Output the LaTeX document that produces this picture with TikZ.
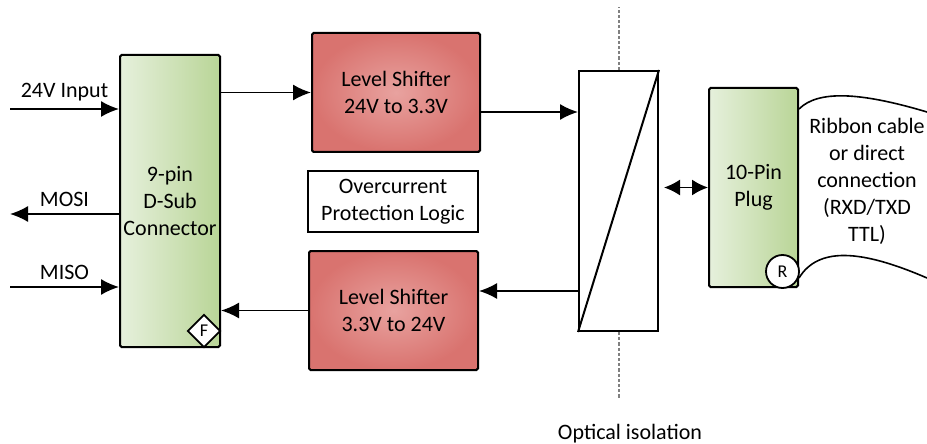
\documentclass[tikz,border=0pt]{standalone}
\usepackage{fontspec}
\setmainfont{Carlito}
\usetikzlibrary{arrows.meta,shapes.geometric}

\definecolor{pinleft}{HTML}{E6F0DC}
\definecolor{pinright}{HTML}{B9D597}
\definecolor{shiftin}{HTML}{E8A29F}
\definecolor{shiftout}{HTML}{D9736F}

\tikzset{
  blk/.style={draw,line width=1pt,rounded corners=0.8pt,align=center,inner sep=0pt},
  pinbox/.style={blk,left color=pinleft,right color=pinright},
  shiftbox/.style={blk,inner color=shiftin,outer color=shiftout},
  tag/.style={draw,fill=white,line width=0.9pt,inner sep=0pt,font=\fontsize{9}{10}\selectfont},
  sig/.style={line width=0.8pt,-{Latex[length=9pt,width=8pt]}},
  isoline/.style={gray,line width=1pt,dash pattern=on 1.6pt off 1pt}
}

\begin{document}
\begin{tikzpicture}[x=0.5pt,y=-0.5pt,font=\fontsize{11}{13.5}\selectfont]
\useasboundingbox (0,0) rectangle (927,444);
% blocks
\node[pinbox,minimum width=50pt,minimum height=146pt] (dsub) at (170,201) {9-pin\\D-Sub\\Connector};
\node[shiftbox,minimum width=84pt,minimum height=59.5pt] (shiftA) at (396,92.5) {Level Shifter\\24V to 3.3V};
\node[blk,rounded corners=0pt,minimum width=85pt,minimum height=30.5pt] (ocp) at (393,201.5) {Overcurrent\\Protection Logic};
\node[shiftbox,minimum width=84.5pt,minimum height=59.5pt] (shiftB) at (393.5,310.5) {Level Shifter\\3.3V to 24V};
\node[draw,line width=1pt,minimum width=39.5pt,minimum height=130pt] (opto) at (618.5,201) {};
\node[pinbox,minimum width=44.5pt,minimum height=99.5pt] (plug) at (753.5,187.5) {10-Pin\\Plug};
\node[tag,diamond,minimum size=16.5pt] (fmark) at ([xshift=-8.5pt,yshift=8.5pt]dsub.south east) {F};
\node[tag,circle,minimum size=16.5pt] (rmark) at ([xshift=-8.25pt,yshift=8.25pt]plug.south east) {R};
\draw[line width=1pt] (opto.south west) -- (opto.north east);
% isolation barrier
\draw[isoline] (opto.north) -- ++(0,-63);
\draw[isoline] (opto.south) -- ++(0,67);
\node[anchor=base] (isolabel) at (630,439) {Optical isolation};
% signals
\coordinate (inA) at (10,109);
\coordinate (mosiend) at (10,214);
\coordinate (inB) at (10,287);
\draw[sig] (inA) -- (inA -| dsub.west) node[midway,above] {24V Input};
\draw[sig] (mosiend -| dsub.west) -- (mosiend) node[midway,above] {MOSI};
\draw[sig] (inB) -- (inB -| dsub.west) node[midway,above] {MISO};
\draw[sig] (dsub.east |- shiftA.west) -- (shiftA.west);
\draw[sig] (shiftB.west) -- (dsub.east |- shiftB.west);
\coordinate (txout) at ([yshift=-9.75pt]shiftA.east);
\coordinate (rxin) at ([yshift=9.75pt]shiftB.east);
\draw[sig] (txout) -- (txout -| opto.west);
\draw[sig] (rxin -| opto.west) -- (rxin);
\coordinate (linkL) at ([xshift=2.5pt]opto.east);
\draw[sig,{Latex[length=8pt,width=8pt]}-{Latex[length=8pt,width=8pt]}] (linkL |- plug.west) -- (plug.west);
% ribbon cable
\coordinate (tapetop) at (927,112);
\coordinate (tapebot) at (927,278);
\draw[line width=0.8pt] ([yshift=-11pt]plug.north east) .. controls (818,90) and (860,92) .. (tapetop);
\draw[line width=0.8pt] ([yshift=5pt]plug.south east) .. controls (818,247) and (860,249) .. (tapebot);
\node[align=center] (ribbon) at (867,181) {Ribbon cable\\or direct\\connection\\(RXD/TXD\\TTL)};
\end{tikzpicture}
\end{document}
